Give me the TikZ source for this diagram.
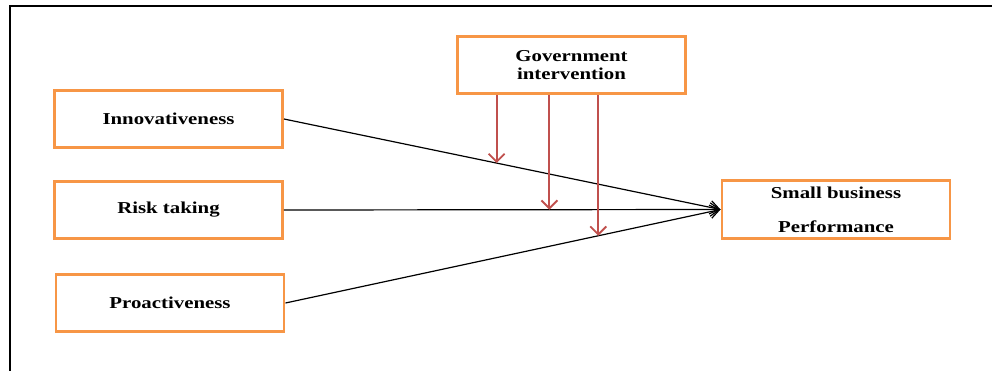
\documentclass[tikz,border=0pt]{standalone}
\usepackage{fontspec}
\setmainfont{Liberation Serif}
\newfontfamily\boxfont[FakeStretch=1.25]{Liberation Serif}
\usepackage{xcolor}
\usetikzlibrary{arrows.meta,positioning,calc}
\definecolor{c1}{RGB}{247,150,70}
\definecolor{c2}{RGB}{192,80,77}

\begin{document}
\begin{tikzpicture}[
    x=0.75pt, y=-0.75pt,
    box/.style={draw=c1, line width=2.2pt, fill=white,
                minimum width=171pt, minimum height=43pt,
                font=\fontsize{12.5}{15}\selectfont\boxfont\bfseries, align=center},
    arr/.style={-{Straight Barb[length=7pt, width=10pt]}, line width=0.9pt, black},
    marr/.style={-{Straight Barb[length=6pt, width=12pt]}, line width=1.4pt, c2},
    every node/.style={inner sep=2pt}]

    \useasboundingbox (0,0) rectangle (992,371);
    % ── frame ────────────────────────────────────────────────
    \draw[line width=1.5pt] (992,6) -- (10,6) -- (10,371);

    % ── boxes ────────────────────────────────────────────────
    \node[box] (inno)   at (168.5,119) {\raisebox{-1pt}{Innovativeness}};
    \node[box] (risk)   at (168.5,210) {\raisebox{-1pt}{Risk taking}};
    \node[box] (proact) at (170,303)   {\raisebox{-1pt}{Proactiveness}};
    \node[box] (gov)    at (571.5,65)  {Government\\[-1.5pt]intervention};
    \node[box] (perf)   at (836,209.5) {Small business\\[10.5pt]Performance};

    % ── direct paths ─────────────────────────────────────────
    \draw[arr] (inno.east)   -- coordinate[pos=0.487] (m1) (perf.west);
    \draw[arr] (risk.east)   -- coordinate[pos=0.608] (m2) (perf.west);
    \draw[arr] (proact.east) -- coordinate[pos=0.719] (m3) (perf.west);

    % ── moderation ───────────────────────────────────────────
    \draw[marr] (gov.south -| m1) -- (m1);
    \draw[marr] (gov.south -| m2) -- (m2);
    \draw[marr] (gov.south -| m3) -- (m3);

\end{tikzpicture}
\end{document}
